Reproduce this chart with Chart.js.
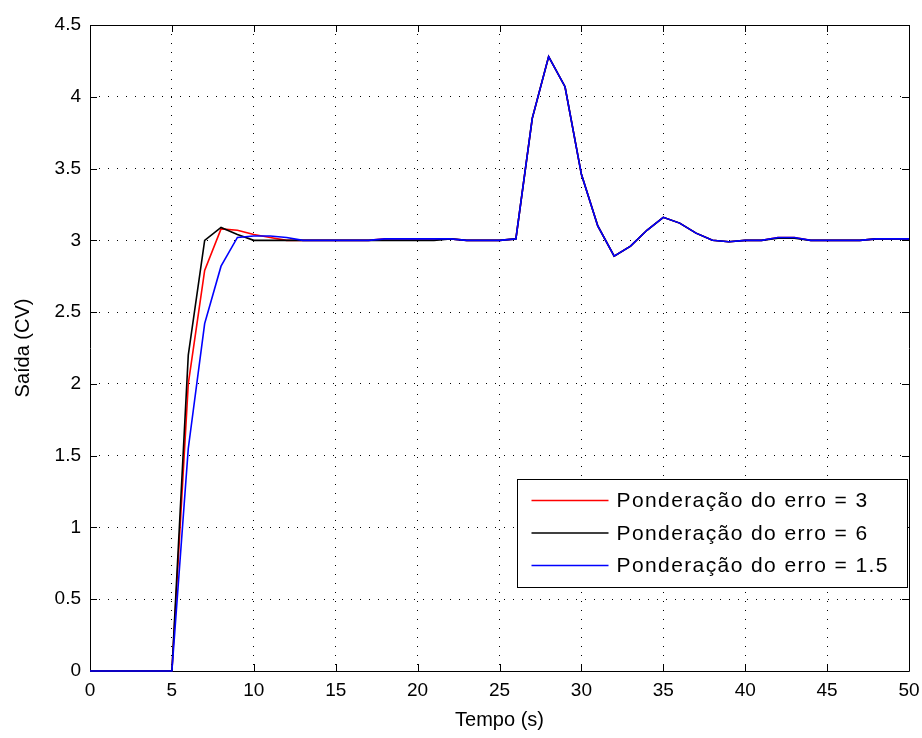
<!DOCTYPE html>
<html>
<head>
<meta charset="utf-8">
<script src="https://cdn.jsdelivr.net/npm/chart.js@4.4.0/dist/chart.umd.min.js"></script>
<style>
  html, body { margin: 0; padding: 0; background: #fff; }
  canvas { display: block; }
</style>
</head>
<body>
<canvas id="myChart" width="922" height="738"></canvas>
<script>
// tempo (s)
const times = [0, 1, 2, 3, 4, 5, 6, 7, 8, 9, 10, 11, 12, 13, 14, 15, 16, 17, 18, 19, 20,
  21, 22, 23, 24, 25, 26, 27, 28, 29, 30, 31, 32, 33, 34, 35, 36, 37, 38, 39, 40,
  41, 42, 43, 44, 45, 46, 47, 48, 49, 50];

// ponderacao do erro = 3
const redValues = [0, 0, 0, 0, 0, 0, 2.0, 2.79, 3.08, 3.07, 3.04, 3.02, 3.0, 3.0, 3.0, 3.0, 3.0, 3.0, 3.01, 3.01, 3.01,
  3.01, 3.01, 3.0, 3.0, 3.0, 3.01, 3.85, 4.28, 4.07, 3.46, 3.1, 2.89, 2.96, 3.07, 3.16, 3.12, 3.05, 3.0, 2.99, 3.0,
  3.0, 3.02, 3.02, 3.0, 3.0, 3.0, 3.0, 3.01, 3.01, 3.01];

// ponderacao do erro = 6
const blackValues = [0, 0, 0, 0, 0, 0, 2.2, 3.0, 3.09, 3.04, 3.0, 3.0, 3.0, 3.0, 3.0, 3.0, 3.0, 3.0, 3.0, 3.0, 3.0,
  3.0, 3.01, 3.0, 3.0, 3.0, 3.01, 3.85, 4.28, 4.07, 3.46, 3.1, 2.89, 2.96, 3.07, 3.16, 3.12, 3.05, 3.0, 2.99, 3.0,
  3.0, 3.015, 3.015, 3.0, 3.0, 3.0, 3.0, 3.01, 3.01, 3.01];

// ponderacao do erro = 1.5
const blueValues = [0, 0, 0, 0, 0, 0, 1.55, 2.42, 2.82, 3.02, 3.03, 3.03, 3.02, 3.0, 3.0, 3.0, 3.0, 3.0, 3.01, 3.01, 3.01,
  3.01, 3.01, 3.0, 3.0, 3.0, 3.01, 3.85, 4.28, 4.07, 3.46, 3.1, 2.89, 2.96, 3.07, 3.16, 3.12, 3.05, 3.0, 2.99, 3.0,
  3.0, 3.02, 3.02, 3.0, 3.0, 3.0, 3.0, 3.01, 3.01, 3.01];

const seriesLabels = ["Ponderação do erro = 3", "Ponderação do erro = 6", "Ponderação do erro = 1.5"];
const seriesColors = ["#ff0000", "#000000", "#0000ff"];
const xTickValues = [0, 5, 10, 15, 20, 25, 30, 35, 40, 45, 50];
const yTickValues = [0, 0.5, 1, 1.5, 2, 2.5, 3, 3.5, 4, 4.5];

const FONT = "'Liberation Sans', Arial, sans-serif";

function toPoints(values) {
  return times.map((t, i) => ({ x: t, y: values[i] }));
}

// frame + inward ticks (matlab style box)
const framePlugin = {
  id: "frame",
  beforeDatasetsDraw(chart) {
    const { ctx, chartArea: a, scales } = chart;
    ctx.save();
    ctx.strokeStyle = "#000";
    ctx.lineWidth = 1;
    ctx.beginPath();
    ctx.rect(Math.round(a.left) + 0.5, Math.round(a.top) + 0.5, Math.round(a.right - a.left), Math.round(a.bottom - a.top));
    const tl = 7;
    xTickValues.forEach(v => {
      const px = Math.round(scales.x.getPixelForValue(v)) + 0.5;
      ctx.moveTo(px, a.bottom); ctx.lineTo(px, a.bottom - tl);
      ctx.moveTo(px, a.top); ctx.lineTo(px, a.top + tl);
    });
    yTickValues.forEach(v => {
      const py = Math.round(scales.y.getPixelForValue(v)) + 0.5;
      ctx.moveTo(a.left, py); ctx.lineTo(a.left + tl, py);
      ctx.moveTo(a.right, py); ctx.lineTo(a.right - tl, py);
    });
    ctx.stroke();
    ctx.restore();
  },
  afterDraw(chart) {
    // boxed legend inside the plot, bottom right
    const { ctx, chartArea: a } = chart;
    const w = 390, h = 108;
    const x0 = Math.round(a.right - 2 - w) + 0.5;
    const y0 = Math.round(a.bottom - 84 - h) + 0.5;
    ctx.save();
    ctx.fillStyle = "#fff";
    ctx.fillRect(x0, y0, w, h);
    ctx.strokeStyle = "#000";
    ctx.lineWidth = 1;
    ctx.strokeRect(x0, y0, w, h);
    ctx.font = "21px " + FONT;
    if ("letterSpacing" in ctx) ctx.letterSpacing = "1.4px";
    ctx.textBaseline = "middle";
    ctx.fillStyle = "#000";
    seriesLabels.forEach((lab, i) => {
      const cy = y0 + 21 + i * 32.5;
      ctx.strokeStyle = seriesColors[i];
      ctx.lineWidth = 1.5;
      ctx.beginPath();
      ctx.moveTo(x0 + 14, cy);
      ctx.lineTo(x0 + 91, cy);
      ctx.stroke();
      ctx.fillText(lab, x0 + 99, cy + 1);
    });
    ctx.restore();
  }
};

const data = {
  datasets: [
    { label: seriesLabels[0], data: toPoints(redValues), borderColor: seriesColors[0], order: 2 },
    { label: seriesLabels[1], data: toPoints(blackValues), borderColor: seriesColors[1], order: 1 },
    { label: seriesLabels[2], data: toPoints(blueValues), borderColor: seriesColors[2], order: 0 },
  ],
};

const config = {
  type: "line",
  data: data,
  options: {
    responsive: false,
    animation: false,
    layout: { padding: { top: 25, right: 13, left: 0, bottom: 0 } },
    elements: {
      line: { borderWidth: 1.6, tension: 0, fill: false },
      point: { radius: 0 },
    },
    datasets: { line: { clip: 4 } },
    plugins: {
      legend: { display: false },
      tooltip: { enabled: false },
    },
    scales: {
      x: {
        type: "linear",
        min: 0,
        max: 50,
        afterBuildTicks: axis => { axis.ticks = xTickValues.map(v => ({ value: v })); },
        afterFit: s => { s.height = 67; s.paddingLeft = 0; s.paddingRight = 0; },
        grid: { color: "#000", lineWidth: 1, drawTicks: false },
        border: { display: false, dash: [1, 8] },
        ticks: { color: "#000", font: { family: FONT, size: 19 }, padding: 8, maxRotation: 0, callback: v => String(v) },
        title: { display: true, text: "Tempo (s)", color: "#000", font: { family: FONT, size: 20 }, padding: { top: 0, bottom: 6 } },
      },
      y: {
        type: "linear",
        min: 0,
        max: 4.5,
        afterBuildTicks: axis => { axis.ticks = yTickValues.map(v => ({ value: v })); },
        afterFit: s => { s.width = 90; s.paddingTop = 0; s.paddingBottom = 0; },
        grid: { color: "#000", lineWidth: 1, drawTicks: false },
        border: { display: false, dash: [1, 8] },
        ticks: { color: "#000", font: { family: FONT, size: 19 }, padding: 9, callback: v => String(v) },
        title: { display: true, text: "Saída (CV)", color: "#000", font: { family: FONT, size: 20 }, padding: { top: 11, bottom: 0 } },
      },
    },
  },
  plugins: [framePlugin],
};

const myChart = new Chart(document.getElementById("myChart"), config);
</script>
</body>
</html>
